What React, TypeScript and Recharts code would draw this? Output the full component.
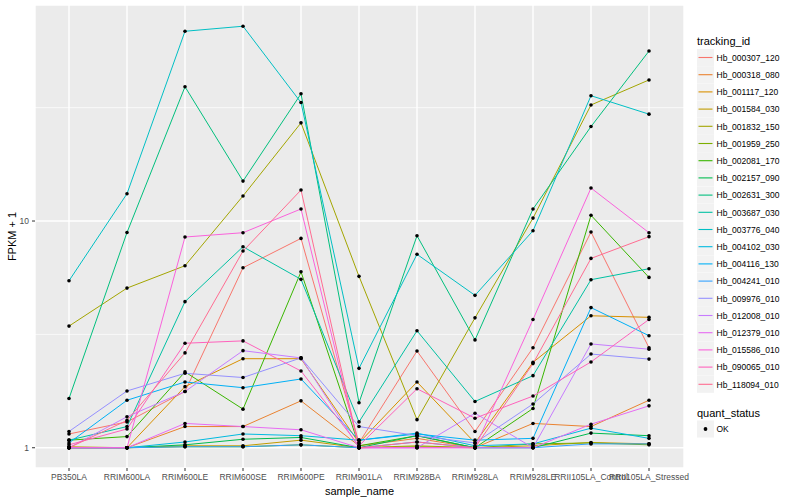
import { LineChart, Line, XAxis, YAxis, CartesianGrid, ReferenceLine, Label } from "recharts";

const categories = [
  "PB350LA",
  "RRIM600LA",
  "RRIM600LE",
  "RRIM600SE",
  "RRIM600PE",
  "RRIM901LA",
  "RRIM928BA",
  "RRIM928LA",
  "RRIM928LE",
  "RRII105LA_Control",
  "RRII105LA_Stressed",
];

const trackingIds = [
  "Hb_000307_120",
  "Hb_000318_080",
  "Hb_001117_120",
  "Hb_001584_030",
  "Hb_001832_150",
  "Hb_001959_250",
  "Hb_002081_170",
  "Hb_002157_090",
  "Hb_002631_300",
  "Hb_003687_030",
  "Hb_003776_040",
  "Hb_004102_030",
  "Hb_004116_130",
  "Hb_004241_010",
  "Hb_009976_010",
  "Hb_012008_010",
  "Hb_012379_010",
  "Hb_015586_010",
  "Hb_090065_010",
  "Hb_118094_010",
];

// ggplot hue palette, 20 levels
const colors = [
  "#F8766D", "#EA8331", "#D89000", "#C09B00", "#A3A500",
  "#7CAE00", "#39B600", "#00BB4E", "#00BF7D", "#00C1A3",
  "#00BFC4", "#00BAE0", "#00B0F6", "#35A2FF", "#9590FF",
  "#C77CFF", "#E76BF3", "#FA62DB", "#FF62BC", "#FF6C91",
];

// FPKM + 1, one value per sample
const hb_000307_120 = [1.15, 1.3, 1.77, 6.22, 8.38, 1.05, 2.67, 1.18, 2.76, 8.94, 2.76];
const hb_000318_080 = [1.0, 1.0, 1.24, 1.24, 1.61, 1.02, 1.1, 1.0, 1.28, 1.24, 1.62];
const hb_001117_120 = [1.0, 1.0, 1.86, 2.47, 2.47, 1.05, 1.95, 1.05, 2.38, 3.82, 3.76];
const hb_001584_030 = [1.01, 1.0, 1.02, 1.02, 1.08, 1.0, 1.02, 1.0, 1.02, 1.055, 1.04];
const hb_001832_150 = [3.44, 5.06, 6.35, 12.9, 27.1, 5.7, 1.33, 3.74, 10.3, 32.5, 41.9];
const hb_001959_250 = [1.0, 1.0, 1.01, 1.01, 1.03, 1.0, 1.01, 1.0, 1.04, 1.05, 1.03];
const hb_002081_170 = [1.08, 1.12, 2.16, 1.48, 5.97, 1.02, 1.13, 1.0, 1.49, 10.6, 5.64];
const hb_002157_090 = [1.0, 1.0, 1.03, 1.09, 1.11, 1.0, 1.13, 1.0, 1.0, 1.16, 1.13];
const hb_002631_300 = [1.65, 8.9, 39.1, 15.0, 36.4, 1.58, 8.61, 2.99, 11.3, 26.1, 56.2];
const hb_003687_030 = [1.08, 1.24, 4.41, 7.7, 5.53, 1.3, 3.28, 1.6, 2.08, 5.51, 6.16];
const hb_003776_040 = [5.45, 13.2, 68.7, 72.3, 33.3, 2.24, 7.13, 4.7, 9.06, 35.7, 29.6];
const hb_004102_030 = [1.0, 1.0, 1.06, 1.15, 1.13, 1.08, 1.16, 1.02, 1.04, 1.22, 1.1];
const hb_004116_130 = [1.05, 1.62, 1.95, 1.84, 2.01, 1.08, 1.15, 1.08, 1.1, 4.15, 3.12];
const hb_004241_010 = [1.0, 1.0, 1.01, 1.01, 1.03, 1.0, 1.06, 1.0, 1.0, 1.04, 1.04];
const hb_009976_010 = [1.18, 1.78, 2.13, 2.04, 2.49, 1.24, 1.13, 1.05, 1.56, 2.59, 2.46];
const hb_012008_010 = [1.0, 1.37, 1.77, 2.68, 2.49, 1.0, 1.0, 1.42, 1.0, 2.87, 2.72];
const hb_012379_010 = [1.0, 1.0, 1.28, 1.24, 1.2, 1.0, 1.0, 1.0, 1.0, 1.27, 1.53];
const hb_015586_010 = [1.0, 1.0, 8.5, 8.88, 11.3, 1.0, 1.0, 1.0, 3.68, 13.98, 8.88];
const hb_090065_010 = [1.03, 1.21, 2.89, 2.96, 2.18, 1.02, 1.82, 1.35, 1.69, 2.39, 3.68];
const hb_118094_010 = [1.0, 1.32, 2.62, 7.37, 13.7, 1.0, 1.06, 1.0, 2.35, 6.84, 8.53];

const seriesValues = [
  hb_000307_120, hb_000318_080, hb_001117_120, hb_001584_030, hb_001832_150,
  hb_001959_250, hb_002081_170, hb_002157_090, hb_002631_300, hb_003687_030,
  hb_003776_040, hb_004102_030, hb_004116_130, hb_004241_010, hb_009976_010,
  hb_012008_010, hb_012379_010, hb_015586_010, hb_090065_010, hb_118094_010,
];

const yTicks = [1, 10];
const yMinor = [Math.sqrt(10), Math.sqrt(1000)];

const data = categories.map((name, i) => {
  const row: Record<string, string | number> = { name };
  trackingIds.forEach((id, s) => {
    row[id] = seriesValues[s][i];
  });
  return row;
});

const font = "'Liberation Sans', Arial, Helvetica, sans-serif";

function LegendPanel() {
  const top = 49;
  const step = 17.2;
  return (
    <svg
      width={800}
      height={500}
      style={{ position: "absolute", left: 0, top: 0, pointerEvents: "none" }}
      fontFamily={font}
    >
      <text x={12} y={236.5} fontSize={11} textAnchor="middle" dominantBaseline="central" transform="rotate(-90 12 236.5)">
        FPKM + 1
      </text>
      <text x={697} y={41} fontSize={11} dominantBaseline="central">
        tracking_id
      </text>
      {trackingIds.map((id, i) => {
        const y = top + i * step;
        return (
          <g key={id}>
            <rect x={697} y={y} width={17} height={17} fill="#F2F2F2" />
            <line x1={698.5} x2={712.5} y1={y + 8.5} y2={y + 8.5} stroke={colors[i]} strokeWidth={1.1} />
            <text x={716.5} y={y + 8.7} fontSize={8.5} dominantBaseline="central">
              {id}
            </text>
          </g>
        );
      })}
      <text x={697} y={412.7} fontSize={11} dominantBaseline="central">
        quant_status
      </text>
      <rect x={697} y={420.5} width={17} height={17} fill="#F2F2F2" />
      <circle cx={705.5} cy={429} r={1.9} fill="#000" />
      <text x={716.5} y={429.2} fontSize={8.5} dominantBaseline="central">
        OK
      </text>
    </svg>
  );
}

export default function App() {
  return (
    <div style={{ position: "absolute", left: 0, top: 0, width: 800, height: 500, background: "#fff" }}>
      <LineChart
        width={800}
        height={500}
        data={data}
        margin={{ top: 5, right: 116, left: 0, bottom: 0 }}
        style={{ fontFamily: font }}
      >
        <CartesianGrid stroke="#FFFFFF" strokeWidth={1.4} fill="#EBEBEB" />
        {yMinor.map((v) => (
          <ReferenceLine key={v} y={v} stroke="#FFFFFF" strokeWidth={0.7} />
        ))}
        <XAxis
          dataKey="name"
          type="category"
          interval={0}
          height={32}
          padding={{ left: 34, right: 35 }}
          axisLine={false}
          tickSize={3}
          tickMargin={3}
          tickLine={{ stroke: "#333333" }}
          tick={{ fill: "#4D4D4D", fontSize: 8.5 }}
        >
          <Label value="sample_name" position="insideBottom" offset={5} fill="#000" fontSize={11} />
        </XAxis>
        <YAxis
          scale="log"
          type="number"
          domain={[0.814, 89.7]}
          allowDataOverflow
          ticks={yTicks}
          tickFormatter={(v) => String(v)}
          width={35}
          axisLine={false}
          tickSize={3}
          tickMargin={3}
          tickLine={{ stroke: "#333333" }}
          tick={{ fill: "#4D4D4D", fontSize: 8.5 }}
        />
        {trackingIds.map((id, i) => (
          <Line
            key={id}
            type="linear"
            dataKey={id}
            stroke={colors[i]}
            strokeWidth={1}
            dot={false}
            activeDot={false}
            isAnimationActive={false}
          />
        ))}
        {trackingIds.map((id) => (
          <Line
            key={id + "_pt"}
            type="linear"
            dataKey={id}
            stroke="none"
            strokeWidth={0}
            dot={{ r: 1.8, fill: "#000", stroke: "none" }}
            activeDot={false}
            legendType="none"
            isAnimationActive={false}
          />
        ))}
      </LineChart>
      <LegendPanel />
    </div>
  );
}
